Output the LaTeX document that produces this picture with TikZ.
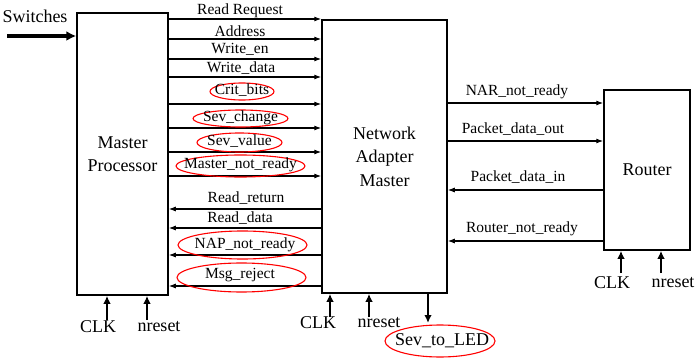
\documentclass[tikz,border=0pt]{standalone}
\usepackage{fontspec}
\setmainfont{Liberation Serif}
\usetikzlibrary{arrows.meta,shapes.geometric}
\begin{document}
\begin{tikzpicture}[x=1pt,y=-1pt,
  blk/.style={draw,line width=1.5pt,inner sep=0,align=center,
    font=\fontsize{18}{23.5}\selectfont},
  sig/.style={line width=1.1pt,-{Latex[length=7pt,width=5pt]}},
  lbl/.style={inner sep=0,font=\fontsize{15.5}{17}\selectfont},
  ring/.style={draw=red,line width=1.1pt,ellipse,inner sep=0},
  ctl/.style={line width=2.6pt,-{Latex[length=8pt,width=7.5pt]}},
  pin/.style={inner sep=0,font=\fontsize{18}{20}\selectfont}]
\useasboundingbox (0,0) rectangle (696,358);

% blocks
\node[blk,minimum width=91pt,minimum height=282pt] (mp) at (122.5,154) {Master\\Processor};
\node[blk,minimum width=125pt,minimum height=273pt] (nam) at (384.5,156.5) {Network\\Adapter\\Master};
\node[blk,minimum width=86pt,minimum height=160pt] (rt) at (647,170) {Router};

% switches input
\node[pin] (sw) at (35,16) {Switches};
\coordinate (swin) at (7,36);
\draw[ctl,line width=3.6pt,-{Latex[length=10pt,width=10pt]}] (swin) -- (mp.west |- swin);

% Master -> NAM
\foreach \yy in {19,39,59,77,104,128,152,176}
  \draw[sig] (mp.east |- 0,\yy) -- (nam.west |- 0,\yy);
\node[lbl] (l1) at (240,11) {Read Request};
\node[lbl] (l2) at (240,31) {Address};
\node[lbl] (l3) at (240,49) {Write\_en};
\node[lbl] (l4) at (241,68) {Write\_data};
\node[ring,minimum width=64pt,minimum height=17pt] (e5) at (242,91.5) {};
\node[lbl] (l5) at (242,90.5) {Crit\_bits};
\node[ring,minimum width=95pt,minimum height=17pt] (e6) at (240.5,118.5) {};
\node[lbl] (l6) at (240.5,117.5) {Sev\_change};
\node[ring,minimum width=85pt,minimum height=19pt] (e7) at (239.5,142.5) {};
\node[lbl] (l7) at (239.5,141.5) {Sev\_value};
\node[ring,minimum width=129pt,minimum height=22pt] (e8) at (240.5,166) {};
\node[lbl] (l8) at (240.5,164.5) {Master\_not\_ready};

% NAM -> Master
\foreach \yy in {209,228,255,286}
  \draw[sig] (nam.west |- 0,\yy) -- (mp.east |- 0,\yy);
\node[lbl] (l9) at (246,198) {Read\_return};
\node[lbl] (l10) at (240,218) {Read\_data};
\node[ring,minimum width=129pt,minimum height=28pt] (e11) at (242.5,245) {};
\node[lbl] (l11) at (245,245) {NAP\_not\_ready};
\node[ring,minimum width=129pt,minimum height=29pt] (e12) at (241.5,277.5) {};
\node[lbl] (l12) at (240,275) {Msg\_reject};

% NAM <-> Router
\draw[sig] (nam.east |- 0,103) -- (rt.west |- 0,103);
\draw[sig] (nam.east |- 0,141) -- (rt.west |- 0,141);
\draw[sig] (rt.west |- 0,190) -- (nam.east |- 0,190);
\draw[sig] (rt.west |- 0,241) -- (nam.east |- 0,241);
\node[lbl] (r1) at (517,92) {NAR\_not\_ready};
\node[lbl] (r2) at (513,129) {Packet\_data\_out};
\node[lbl] (r3) at (518,177) {Packet\_data\_in};
\node[lbl] (r4) at (522,229) {Router\_not\_ready};

% clock and reset inputs
\node[pin] (mclk) at (98,327) {CLK};
\node[pin] (mrst) at (159,327) {nreset};
\coordinate (mc) at (107,320);
\coordinate (mr) at (147,320);
\draw[ctl] (mc) -- (mc |- mp.south);
\draw[ctl] (mr) -- (mr |- mp.south);

\node[pin] (nclk) at (318,323) {CLK};
\node[pin] (nrst) at (379,323) {nreset};
\coordinate (nc) at (330,317);
\coordinate (nr) at (369,317);
\draw[ctl] (nc) -- (nc |- nam.south);
\draw[ctl] (nr) -- (nr |- nam.south);

\node[pin] (rclk) at (612,283) {CLK};
\node[pin] (rrst) at (673,283) {nreset};
\coordinate (rc) at (621,273);
\coordinate (rr) at (661,273);
\draw[ctl] (rc) -- (rc |- rt.south);
\draw[ctl] (rr) -- (rr |- rt.south);

% severity output
\coordinate (led) at (428,323);
\draw[ctl] (led |- nam.south) -- (led);
\node[ring,minimum width=110pt,minimum height=32pt] (esev) at (440,341) {};
\node[pin] (sev) at (442,341) {Sev\_to\_LED};
\end{tikzpicture}
\end{document}
